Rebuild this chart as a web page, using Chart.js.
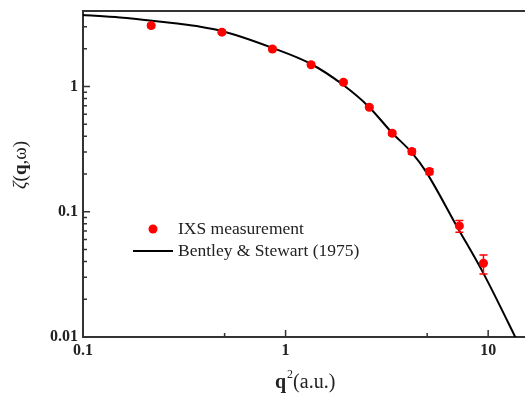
<!DOCTYPE html>
<html>
<head>
<meta charset="utf-8">
<script src="https://cdn.jsdelivr.net/npm/chart.js@4/dist/chart.umd.min.js"></script>
<style>
  html, body { margin: 0; padding: 0; background: #fff; }
</style>
</head>
<body>
<canvas id="chart" width="525" height="393"></canvas>
<script>
// IXS measurement points (q^2 in a.u., zeta) with error bar ends
const ixsQ2   = [0.217, 0.485, 0.861, 1.336, 1.93, 2.59, 3.36, 4.20, 5.13, 7.21, 9.48];
const ixsZeta = [3.06, 2.71, 1.99, 1.49, 1.08, 0.682, 0.423, 0.302, 0.209, 0.077, 0.0388];
const ixsLow  = [2.96, 2.62, 1.93, 1.45, 1.05, 0.662, 0.408, 0.288, 0.198, 0.0686, 0.0319];
const ixsHigh = [3.16, 2.80, 2.05, 1.53, 1.11, 0.702, 0.438, 0.316, 0.220, 0.0849, 0.0452];

// Bentley & Stewart (1975) curve
const bsQ2   = [0.1, 0.152, 0.219, 0.284, 0.379, 0.485, 0.861, 1.336, 1.92, 2.58, 3.36, 4.21, 4.94, 7.03, 9.45, 13.6, 14.2];
const bsZeta = [3.72, 3.55, 3.35, 3.19, 3.0, 2.77, 2.03, 1.51, 1.03, 0.686, 0.425, 0.295, 0.208, 0.0756, 0.0325, 0.01, 0.00865];

const xMajor = [0.1, 1, 10];
const xMinor = [0.5, 5];
const yMajor = [0.01, 0.1, 1];
const yMinor = [0.02, 0.03, 0.04, 0.05, 0.06, 0.07, 0.08, 0.09,
                0.2, 0.3, 0.4, 0.5, 0.6, 0.7, 0.8, 0.9, 2, 3];

const SERIF = '"Liberation Serif", "Times New Roman", serif';
const AXIS = '#333';
const RED = '#ff0000';

// frame top, inward ticks, error bars, legend, axis titles
const decor = {
    id: 'decor',
    afterDatasetsDraw(chart) {
        const { ctx, chartArea: a, scales: { x, y } } = chart;
        ctx.save();

        // error bars
        ctx.strokeStyle = RED;
        ctx.lineWidth = 1.5;
        ixsQ2.forEach((q, i) => {
            const px = x.getPixelForValue(q);
            const lo = y.getPixelForValue(ixsLow[i]);
            const hi = y.getPixelForValue(ixsHigh[i]);
            ctx.beginPath();
            ctx.moveTo(px, lo); ctx.lineTo(px, hi);
            ctx.moveTo(px - 4, lo); ctx.lineTo(px + 4, lo);
            ctx.moveTo(px - 4, hi); ctx.lineTo(px + 4, hi);
            ctx.stroke();
        });

        // top frame line
        ctx.strokeStyle = AXIS;
        ctx.lineWidth = 2;
        ctx.beginPath();
        ctx.moveTo(a.left - 1, a.top); ctx.lineTo(a.right, a.top);
        ctx.stroke();

        // inward ticks
        ctx.lineWidth = 1.5;
        ctx.beginPath();
        xMajor.forEach(v => { const p = x.getPixelForValue(v); ctx.moveTo(p, a.bottom); ctx.lineTo(p, a.bottom - 7); });
        xMinor.forEach(v => { const p = x.getPixelForValue(v); ctx.moveTo(p, a.bottom); ctx.lineTo(p, a.bottom - 4); });
        yMajor.forEach(v => { const p = y.getPixelForValue(v); ctx.moveTo(a.left, p); ctx.lineTo(a.left + 7, p); });
        yMinor.forEach(v => { const p = y.getPixelForValue(v); ctx.moveTo(a.left, p); ctx.lineTo(a.left + 4, p); });
        ctx.stroke();

        // legend
        ctx.fillStyle = RED;
        ctx.beginPath();
        ctx.arc(153, 229, 4.5, 0, Math.PI * 2);
        ctx.fill();
        ctx.strokeStyle = '#000';
        ctx.lineWidth = 2;
        ctx.beginPath();
        ctx.moveTo(133, 251); ctx.lineTo(173, 251);
        ctx.stroke();
        ctx.fillStyle = '#222';
        ctx.font = '17.5px ' + SERIF;
        ctx.textBaseline = 'middle';
        ctx.textAlign = 'left';
        ctx.fillText('IXS measurement', 178, 229);
        ctx.fillText('Bentley & Stewart (1975)', 178, 251);

        // x title: q^2(a.u.)
        let cx = 275;
        const by = 388;
        ctx.textBaseline = 'alphabetic';
        ctx.font = 'bold 20px ' + SERIF;
        ctx.fillText('q', cx, by); cx += ctx.measureText('q').width + 1;
        ctx.font = '12px ' + SERIF;
        ctx.fillText('2', cx, by - 10); cx += ctx.measureText('2').width;
        ctx.font = '20px ' + SERIF;
        ctx.fillText('(a.u.)', cx, by);

        // y title: zeta(q,omega)
        ctx.translate(26, 165);
        ctx.rotate(-Math.PI / 2);
        const parts = [['italic 19px ', '\u03B6'], ['19px ', '('], ['bold 19px ', 'q'], ['19px ', ',\u03C9)']];
        let w = 0;
        parts.forEach(([f, t]) => { ctx.font = f + SERIF; w += ctx.measureText(t).width; });
        let tx = -w / 2;
        parts.forEach(([f, t]) => { ctx.font = f + SERIF; ctx.fillText(t, tx, 0); tx += ctx.measureText(t).width; });

        ctx.restore();
    }
};

const tickFont = { family: SERIF, weight: 'bold', size: 16 };

new Chart(document.getElementById('chart').getContext('2d'), {
    type: 'scatter',
    data: {
        datasets: [
            {
                label: 'IXS measurement',
                data: ixsQ2.map((q, i) => ({ x: q, y: ixsZeta[i] })),
                backgroundColor: RED,
                borderColor: RED,
                pointRadius: 4.5,
                pointBorderWidth: 0
            },
            {
                label: 'Bentley & Stewart (1975)',
                data: bsQ2.map((q, i) => ({ x: q, y: bsZeta[i] })),
                showLine: true,
                borderColor: '#000',
                borderWidth: 2,
                pointRadius: 0,
                cubicInterpolationMode: 'monotone'
            }
        ]
    },
    options: {
        responsive: false,
        animation: false,
        layout: { autoPadding: false, padding: { top: 11, right: 0, left: 0, bottom: 0 } },
        plugins: { legend: { display: false }, tooltip: { enabled: false } },
        scales: {
            x: {
                type: 'logarithmic',
                min: 0.1, max: 15.2,
                afterBuildTicks: s => { s.ticks = xMajor.map(v => ({ value: v })); },
                afterFit: s => { s.height = 56; s.paddingLeft = 0; s.paddingRight = 0; },
                ticks: { color: '#222', font: tickFont, padding: 4, maxRotation: 0, autoSkip: false,
                         callback: v => String(v) },
                grid: { display: false, drawTicks: false },
                border: { display: true, color: AXIS, width: 2 }
            },
            y: {
                type: 'logarithmic',
                min: 0.01, max: 4,
                afterBuildTicks: s => { s.ticks = yMajor.map(v => ({ value: v })); },
                afterFit: s => { s.width = 83; s.paddingTop = 0; s.paddingBottom = 0; },
                ticks: { color: '#222', font: tickFont, padding: 5, autoSkip: false,
                         callback: v => String(v) },
                grid: { display: false, drawTicks: false },
                border: { display: true, color: AXIS, width: 2 }
            }
        }
    },
    plugins: [decor]
});
</script>
</body>
</html>
